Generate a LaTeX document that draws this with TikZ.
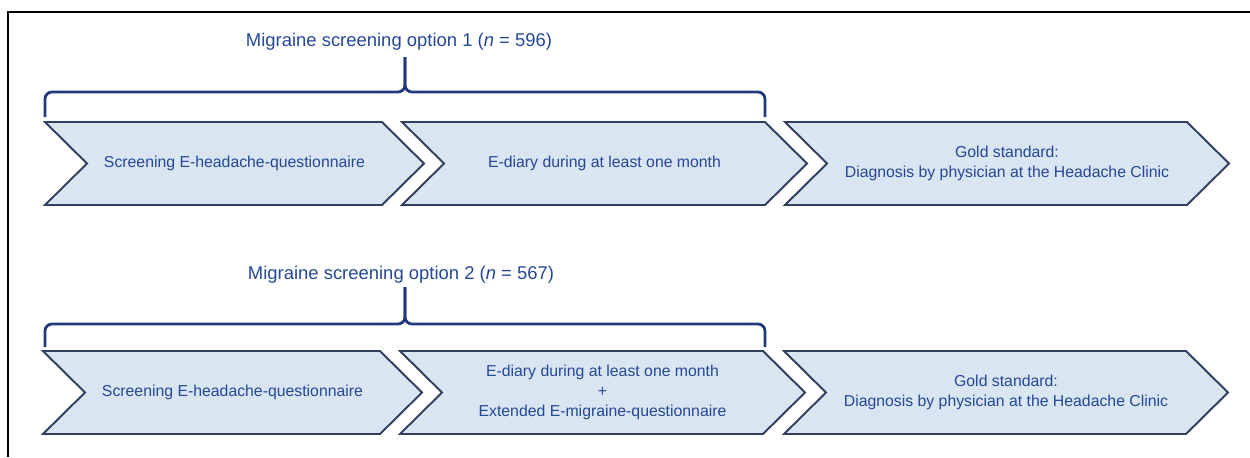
\documentclass[tikz,border=0pt]{standalone}
\usepackage{fontspec}
\setmainfont{Liberation Sans}
\usetikzlibrary{positioning}
\definecolor{chevfill}{RGB}{218,229,242}
\definecolor{chevdraw}{RGB}{48,62,96}
\definecolor{textblue}{RGB}{36,72,150}
\definecolor{bracecol}{RGB}{32,58,125}
% #1 name, #2 left x, #3 top y, #4 body width, #5 text
\newcommand{\chevron}[5]{%
\draw[chevbox] (#2,#3) -- ++(#4,0) -- ++(42,41.5) -- ++(-42,41.5) -- ++(-#4,0) -- ++(42,-41.5) -- cycle;
\node[chevtext] (#1) at ({#2+(#4+42)/2},{#3+41.5}) {#5};}

\begin{document}
\begin{tikzpicture}[x=0.02cm,y=-0.02cm,
  chevbox/.style={draw=chevdraw,fill=chevfill,line width=1.1pt,line join=miter},
  chevtext/.style={text=textblue,align=center,font=\fontsize{9}{11.4}\selectfont},
  optlabel/.style={text=textblue,font=\fontsize{10.5}{12.6}\selectfont},
  bracket/.style={draw=bracecol,line width=1.6pt,rounded corners=4pt}]
\useasboundingbox (0,0) rectangle (1250,457);
\draw[line width=1.4pt] (8,457) -- (8,12) -- (1250,12);

% option 1
\chevron{screenA}{45}{122}{337}{Screening E-headache-questionnaire}
\chevron{diaryA}{402}{122}{363}{E-diary during at least one month}
\chevron{goldA}{785}{122}{402}{Gold standard:\\Diagnosis by physician at the Headache Clinic}
\node[optlabel] (optA) at (399,42) {Migraine screening option 1 ({\itshape n} = 596)};
\coordinate (tipA) at (405,57);
\draw[bracket] (45,117) |- (405,92) -- (tipA);
\draw[bracket] (765,117) |- (405,92) -- (tipA);

% option 2
\chevron{screenB}{43}{351}{337}{Screening E-headache-questionnaire}
\chevron{diaryB}{400}{351}{363}{E-diary during at least one month\\+\\Extended E-migraine-questionnaire}
\chevron{goldB}{784}{351}{402}{Gold standard:\\Diagnosis by physician at the Headache Clinic}
\node[optlabel] (optB) at (401,275) {Migraine screening option 2 ({\itshape n} = 567)};
\coordinate (tipB) at (405,287);
\draw[bracket] (45,347) |- (405,324) -- (tipB);
\draw[bracket] (765,347) |- (405,324) -- (tipB);
\end{tikzpicture}
\end{document}
